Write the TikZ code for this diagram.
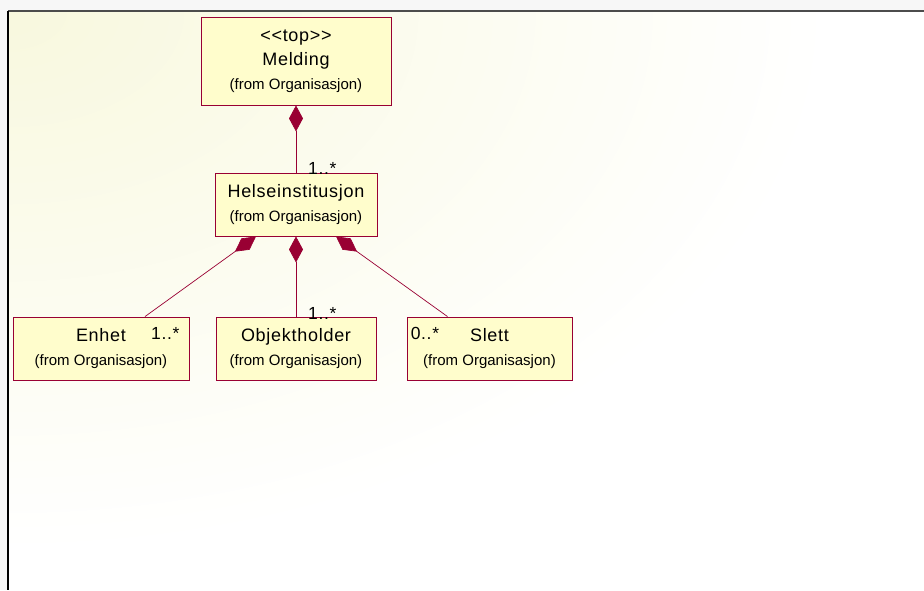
\documentclass[tikz,border=0pt]{standalone}
\usepackage{fontspec}
\setmainfont{Liberation Sans}
\newfontfamily\bigfont[LetterSpace=4]{Liberation Sans}
\newfontfamily\smallfont{Liberation Sans}
\usetikzlibrary{arrows.meta, calc}

\definecolor{umlred}{RGB}{153,0,51}
\definecolor{umlfill}{RGB}{255,253,204}
\definecolor{paper}{RGB}{248,248,222}

\newcommand{\fromorg}{{\smallfont\fontsize{15}{18}\selectfont (from Organisasjon)}}

\begin{document}
\begin{tikzpicture}[
    x=1pt, y=-1pt, % one unit = one pixel, y running down
    classbox/.style={draw=umlred, fill=umlfill, line width=0.9pt, align=center,
        inner sep=0pt, font=\bigfont\fontsize{18}{24}\selectfont}, % UML class
    comp/.style={{Diamond[length=26pt, width=14pt]}-, umlred, line width=0.7pt}, % composition
    mult/.style={font=\bigfont\fontsize{17.5}{20}\selectfont, inner sep=0pt} % multiplicity
]
    \useasboundingbox (0,0) rectangle (924,590);

    % Frame corners
    \coordinate (TL) at (8,11);
    \coordinate (TR) at (924,11);
    \coordinate (BL) at (8,590);
    \coordinate (BR) at (924,590);

    % Paper: grey outside, yellow fading to white inside
    \fill[gray!6] (0,0) rectangle (BR);
    \begin{scope}
        \clip (TL) rectangle (BR);
        \fill[white] (TL) rectangle (BR);
        \shade[inner color=paper, outer color=white] (TL) ellipse (820 and 540);
    \end{scope}
    \draw[line width=2pt, gray!60!black] (TL) -- (TR);
    \draw[line width=2pt, black] (TL) -- (BL);

    % Classes
    \node[classbox, minimum width=190pt, minimum height=88pt] (melding) at (296,61)
        {<<top>>\\[0pt]Melding\\[0pt]\fromorg};
    \node[classbox, minimum width=162pt, minimum height=63pt] (helse) at (296,204.5)
        {Helseinstitusjon\\\fromorg};
    \node[classbox, minimum width=176pt, minimum height=63pt] (enhet) at (101,348.5)
        {Enhet\\\fromorg};
    \node[classbox, minimum width=160pt, minimum height=63pt] (objekt) at (296,348.5)
        {Objektholder\\\fromorg};
    \node[classbox, minimum width=165pt, minimum height=63pt] (slett) at (489.5,348.5)
        {Slett\\\fromorg};

    % Ends of the slanted links
    \coordinate (helse_L) at ($(helse.south)+(-40,0)$);
    \coordinate (helse_R) at ($(helse.south)+(40,0)$);
    \coordinate (enhet_T) at ($(enhet.north)+(44,0)$);
    \coordinate (slett_T) at ($(slett.north)+(-42,0)$);

    % Compositions
    \draw[comp] (melding.south) -- (helse.north);
    \draw[comp] (helse.south) -- (objekt.north);
    \draw[comp] (helse_L) -- (enhet_T);
    \draw[comp] (helse_R) -- (slett_T);

    % Multiplicities
    \node[mult, anchor=base west] (m_helse) at ($(helse.north)+(12,2)$) {1..*};
    \node[mult, anchor=base west] (m_objekt) at ($(objekt.north)+(12,3)$) {1..*};
    \node[mult, anchor=base west] (m_enhet) at ($(enhet.north)+(50,23)$) {1..*};
    \node[mult, anchor=base west] (m_slett) at ($(slett.north west)+(4,23)$) {0..*};

\end{tikzpicture}
\end{document}
